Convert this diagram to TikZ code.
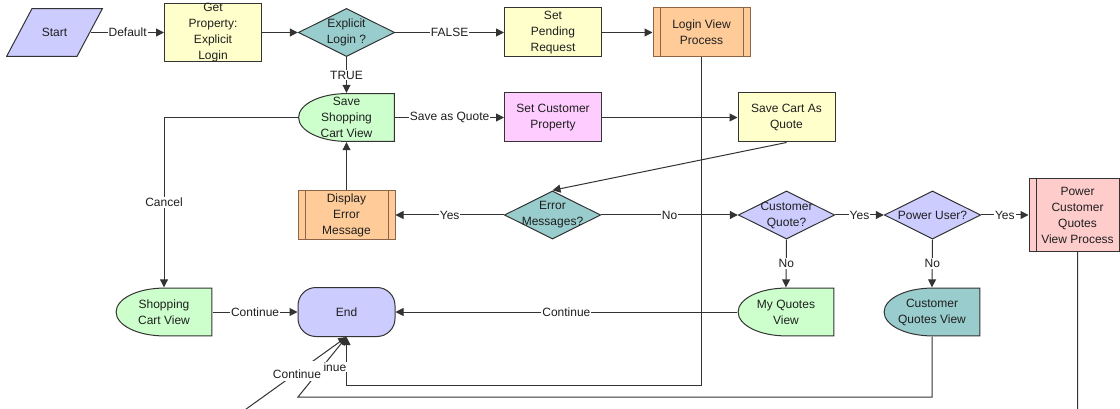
\documentclass[tikz,border=0pt]{standalone}
\usepackage{fontspec}
\setmainfont{Liberation Sans}
\usetikzlibrary{arrows.meta}
\definecolor{startblue}{HTML}{CCCCFF}
\definecolor{taskyellow}{HTML}{FFFFCC}
\definecolor{decteal}{HTML}{99CCCC}
\definecolor{viewgreen}{HTML}{CCFFCC}
\definecolor{propink}{HTML}{FFCCFF}
\definecolor{procpeach}{HTML}{FFCC99}
\definecolor{procrose}{HTML}{FFCCCC}
\definecolor{procbrown}{HTML}{8C6446}
\definecolor{linegray}{HTML}{333333}
\definecolor{textgray}{HTML}{1F1F1F}
\newcommand{\flowfont}{\fontsize{12}{16}\selectfont}
\tikzset{%
  flow/.style = {font=\flowfont, text=textgray, align=center,
    inner sep=0pt, minimum width=97pt, minimum height=49pt},
  taskbox/.style = {flow, draw=linegray, line width=1pt, fill=#1},
  procbox/.style 2 args = {taskbox=#1, draw=#2,
    path picture={\draw[#2, line width=1pt]
      ([xshift=7pt]path picture bounding box.north west) --
      ([xshift=7pt]path picture bounding box.south west)
      ([xshift=-7pt]path picture bounding box.north east) --
      ([xshift=-7pt]path picture bounding box.south east);}},
  decision/.style = {flow,
    path picture={\draw[linegray, line width=1pt, fill=#1]
      ([xshift=0.6pt]path picture bounding box.west) --
      ([yshift=-0.6pt]path picture bounding box.north) --
      ([xshift=-0.6pt]path picture bounding box.east) --
      ([yshift=0.6pt]path picture bounding box.south) -- cycle;}},
  viewbox/.style = {flow,
    path picture={\draw[linegray, line width=1pt, fill=#1]
      ([yshift=-0.6pt]path picture bounding box.north) --
      ([shift={(-0.6pt,-0.6pt)}]path picture bounding box.north east) --
      ([shift={(-0.6pt,0.6pt)}]path picture bounding box.south east) --
      ([yshift=0.6pt]path picture bounding box.south)
      arc[start angle=270, end angle=90, x radius=47.9pt, y radius=23.9pt]
      -- cycle;}},
  startbox/.style = {flow,
    path picture={\draw[linegray, line width=1pt, fill=#1]
      ([shift={(26pt,-0.6pt)}]path picture bounding box.north west) --
      ([shift={(-0.6pt,-0.6pt)}]path picture bounding box.north east) --
      ([shift={(-26pt,0.6pt)}]path picture bounding box.south east) --
      ([shift={(0.6pt,0.6pt)}]path picture bounding box.south west) -- cycle;}},
  endbox/.style = {flow, draw=linegray, line width=1pt, fill=#1,
    rounded corners=18pt},
  flowline/.style = {draw=linegray, line width=1pt,
    -{Triangle[length=8pt, width=8pt]}},
  cond/.style = {font=\flowfont, text=textgray, fill=white, inner sep=1pt}
}
\begin{document}
\begin{tikzpicture}[x=1pt, y=1pt]
\path[use as bounding box, fill=white] (0,0) rectangle (1120,-409);

\node[startbox=startblue] (start) at (54.5,-32.5) {Start};
\node[taskbox=taskyellow] (getp) at (213,-32.5) {Get\\Property:\\Explicit\\Login};
\node[decision=decteal] (exl) at (346.5,-32.5) {Explicit\\Login ?};
\node[taskbox=taskyellow] (spr) at (553,-32.5) {Set\\Pending\\Request};
\node[procbox={procpeach}{procbrown}] (lvp) at (701.5,-32.5) {Login View\\Process};

\node[viewbox=viewgreen] (ssc) at (346.5,-117.5) {Save\\Shopping\\Cart View};
\node[taskbox=propink] (scp) at (553,-117.5) {Set Customer\\Property};
\node[taskbox=taskyellow] (scq) at (786.5,-117.5) {Save Cart As\\Quote};

\node[procbox={procpeach}{procbrown}] (dem) at (346.5,-215) {Display\\Error\\Message};
\node[decision=decteal] (err) at (552.5,-215) {Error\\Messages?};
\node[decision=startblue] (cq) at (786.5,-215) {Customer\\Quote?};
\node[decision=startblue] (pu) at (932.5,-215) {Power User?};
\node[procbox={procrose}{linegray}, minimum height=73pt] (pcq) at (1077.5,-215) {Power\\Customer\\Quotes\\View Process};

\node[viewbox=viewgreen] (scv) at (164,-312) {Shopping\\Cart View};
\node[endbox=startblue] (endn) at (346.5,-312) {End};
\node[viewbox=viewgreen] (mqv) at (786,-312) {My Quotes\\View};
\node[viewbox=decteal] (cqv) at (932,-312) {Customer\\Quotes View};

\draw[flowline] ([xshift=-12pt]start.east) -- node[cond]{Default} (getp.west);
\draw[flowline] (getp.east) -- (exl.west);
\draw[flowline] (exl.east) -- node[cond]{FALSE} (spr.west);
\draw[flowline] (spr.east) -- (lvp.west);
\draw[flowline] (exl.south) -- node[cond]{TRUE} (ssc.north);
\draw[flowline] (ssc.east) -- node[cond]{Save as Quote} (scp.west);
\draw[flowline] (scp.east) -- (scq.west);
\draw[flowline] (scq.south) -- (err.north);
\draw[flowline] (err.west) -- node[cond]{Yes} (dem.east);
\draw[flowline] (dem.north) -- (ssc.south);
\draw[flowline] (ssc.west) -| node[cond, pos=0.75]{Cancel} (scv.north);
\draw[flowline] (err.east) -- node[cond]{No} (cq.west);
\draw[flowline] (cq.east) -- node[cond]{Yes} (pu.west);
\draw[flowline] (pu.east) -- node[cond]{Yes} (pcq.west);
\draw[flowline] (cq.south) -- node[cond]{No} (mqv.north);
\draw[flowline] (pu.south) -- node[cond]{No} (cqv.north);
\draw[flowline] (scv.east) -- node[cond]{Continue} (endn.west);
\draw[flowline] (mqv.west) -- node[cond]{Continue} (endn.east);
\draw[flowline] (lvp.south) -- (lvp.south |- 0,-385) -| (endn.south);
\draw[flowline] (cqv.south) |- (298,-397) -- node[cond]{Continue} (endn.south);
\draw[flowline] (pcq.south) |- (203,-440) -- node[cond, pos=0.655, inner xsep=2pt,
  text height=16pt, text depth=2pt, yshift=1.5pt]{Continue} (endn.south);
\end{tikzpicture}
\end{document}
